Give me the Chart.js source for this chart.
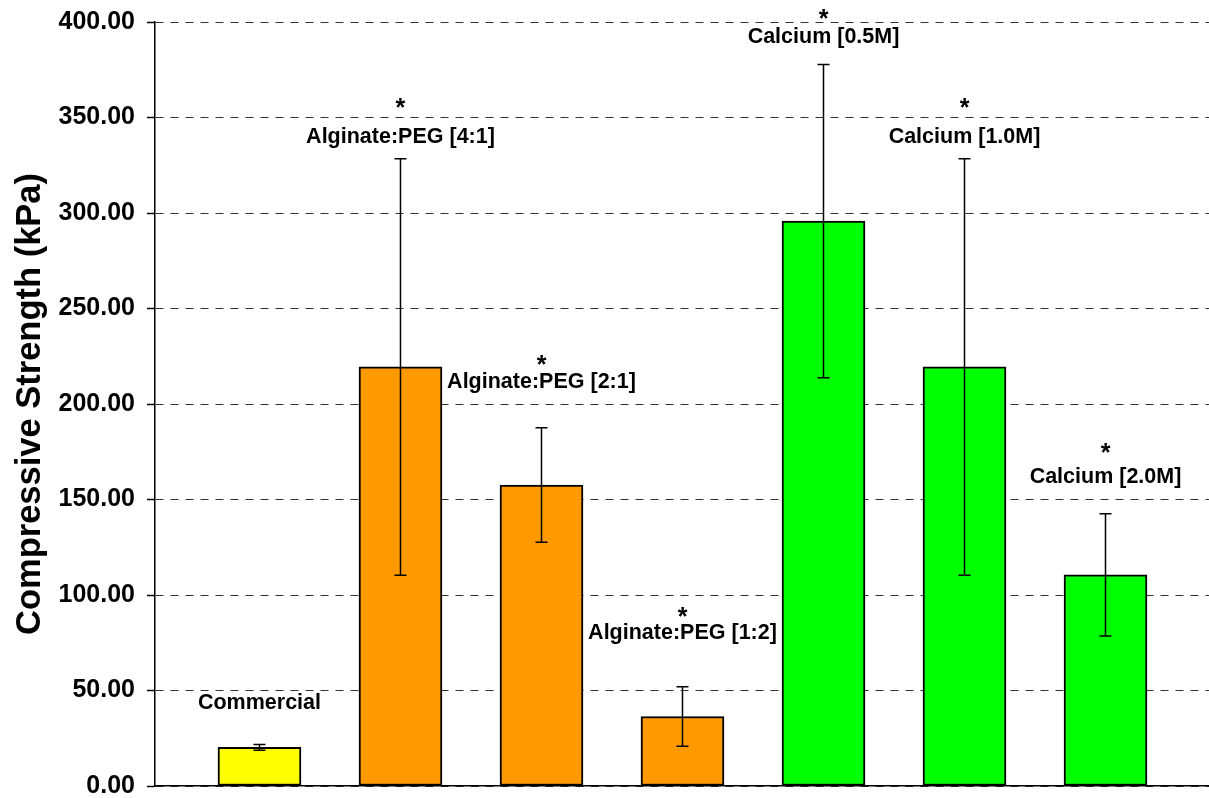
<!DOCTYPE html>
<html>
<head>
<meta charset="utf-8">
<script src="https://cdn.jsdelivr.net/npm/chart.js@4.4.0/dist/chart.umd.min.js"></script>
<style>
    body { margin: 0; background: #fff; }
    #wrap { width: 1209px; height: 798px; }
</style>
</head>
<body>
<div id="wrap"><canvas id="chart" width="1209" height="798"></canvas></div>
<script>
// Groups (one bar each)
const categories = [
    'Commercial',
    'Alginate:PEG [4:1]',
    'Alginate:PEG [2:1]',
    'Alginate:PEG [1:2]',
    'Calcium [0.5M]',
    'Calcium [1.0M]',
    'Calcium [2.0M]'
];

// Mean compressive strength (kPa) and standard deviation
const means = [20.2, 219.4, 157.6, 36.4, 295.8, 219.4, 110.5];
const errors = [1.5, 109, 30, 15.6, 82, 109, 32];

// Significance markers and where each label sits (kPa)
const significant = [false, true, true, true, true, true, true];
const labelValues = [43.5, 340, 211.7, 80, 392, 340, 161.7];
const starValues = [null, 358, 223.3, 91.6, 404.7, 358, 177.5];

// Y axis ticks
const yTicks = [0, 50, 100, 150, 200, 250, 300, 350, 400];

const barColors = ['#FFFF00', '#FF9900', '#FF9900', '#FF9900', '#00FF00', '#00FF00', '#00FF00'];

// Error bars + text labels drawn on top of the bars
const annotatePlugin = {
    id: 'annotate',
    afterDatasetsDraw(chart) {
        const ctx = chart.ctx;
        const yScale = chart.scales.y;
        const meta = chart.getDatasetMeta(0);

        ctx.save();
        ctx.strokeStyle = '#000';
        ctx.lineWidth = 1.5;
        meta.data.forEach((bar, i) => {
            const x = bar.x;
            const top = yScale.getPixelForValue(means[i] + errors[i]);
            const bottom = yScale.getPixelForValue(means[i] - errors[i]);
            ctx.beginPath();
            ctx.moveTo(x, top);
            ctx.lineTo(x, bottom);
            ctx.moveTo(x - 6, top);
            ctx.lineTo(x + 6, top);
            ctx.moveTo(x - 6, bottom);
            ctx.lineTo(x + 6, bottom);
            ctx.stroke();
        });
        ctx.restore();
    },
    afterDraw(chart) {
        const ctx = chart.ctx;
        const yScale = chart.scales.y;
        const meta = chart.getDatasetMeta(0);

        ctx.save();
        ctx.fillStyle = '#000';
        ctx.textAlign = 'center';
        ctx.textBaseline = 'middle';
        meta.data.forEach((bar, i) => {
            ctx.font = 'bold 21.5px "Liberation Sans", Arial, sans-serif';
            ctx.fillText(categories[i], bar.x, yScale.getPixelForValue(labelValues[i]));
            if (significant[i]) {
                ctx.font = 'bold 25px "Liberation Sans", Arial, sans-serif';
                ctx.fillText('*', bar.x, yScale.getPixelForValue(starValues[i]) + 7);
            }
        });
        ctx.restore();
    }
};

const ctx = document.getElementById('chart').getContext('2d');
const chart = new Chart(ctx, {
    type: 'bar',
    data: {
        datasets: [{
            label: 'Compressive Strength',
            data: means.map((v, i) => ({ x: i, y: v })),
            backgroundColor: barColors,
            borderColor: '#000',
            borderWidth: 2,
            borderSkipped: false,
            barThickness: 83
        }]
    },
    options: {
        responsive: false,
        animation: false,
        layout: {
            padding: { top: 22, right: 0, bottom: 0, left: 0 }
        },
        scales: {
            x: {
                type: 'linear',
                offset: false,
                min: -0.741,
                max: 6.734,
                ticks: { display: false },
                grid: { display: false, drawTicks: false },
                border: { display: true, color: '#000', width: 1.5 },
                afterFit: (scale) => {
                    scale.height = 12;
                    scale.paddingLeft = 0;
                    scale.paddingRight = 0;
                }
            },
            y: {
                min: 0,
                max: 400,
                afterBuildTicks: (scale) => {
                    scale.ticks = yTicks.map(v => ({ value: v }));
                },
                ticks: {
                    color: '#000',
                    padding: 12,
                    font: { family: '"Liberation Sans", Arial, sans-serif', size: 25, weight: 'bold' },
                    callback: (v) => Number(v).toFixed(2)
                },
                grid: {
                    color: '#333',
                    lineWidth: 1,
                    tickLength: 8,
                    tickColor: '#000',
                    tickWidth: 1.5,
                    tickBorderDash: []
                },
                border: { display: true, color: '#000', width: 1.5, dash: [8, 7] },
                title: {
                    display: true,
                    text: 'Compressive Strength (kPa)',
                    color: '#000',
                    padding: { top: 10, bottom: 0 },
                    font: { family: '"Liberation Sans", Arial, sans-serif', size: 34.5, weight: 'bold' }
                },
                afterFit: (scale) => {
                    scale.width = 155;
                    scale.paddingTop = 0;
                    scale.paddingBottom = 0;
                }
            }
        },
        plugins: {
            legend: { display: false },
            tooltip: { enabled: false }
        }
    },
    plugins: [annotatePlugin]
});
</script>
</body>
</html>
